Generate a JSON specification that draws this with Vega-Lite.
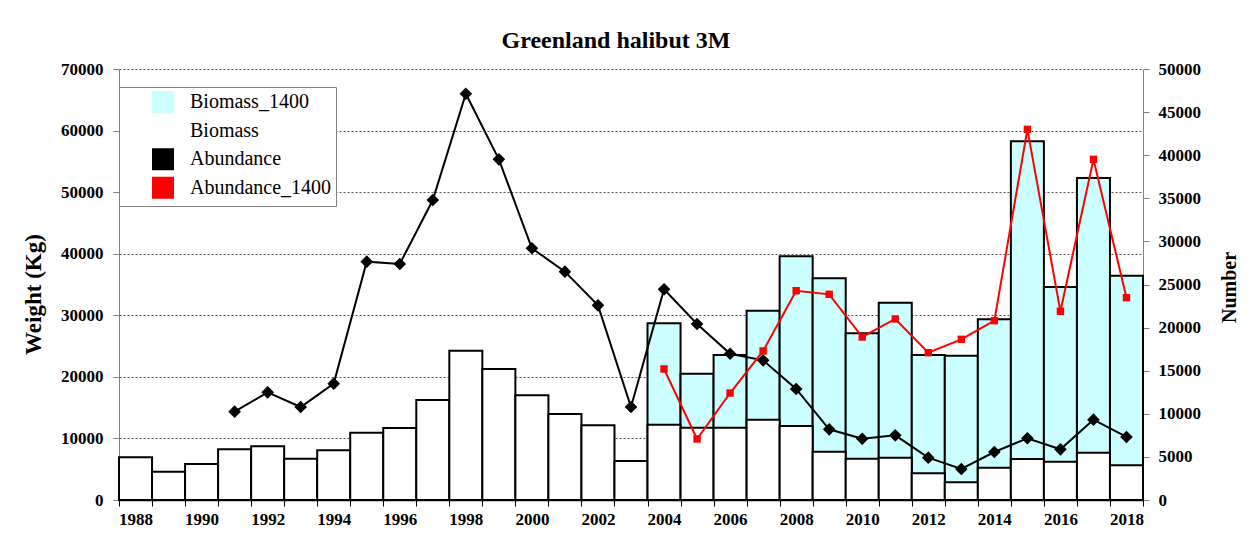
{
  "$schema": "https://vega.github.io/schema/vega-lite/v6.json",
  "width": 1024,
  "height": 431,
  "autosize": {"type": "none"},
  "padding": {"left": 119, "top": 69, "right": 111, "bottom": 50},
  "background": "white",
  "config": {
    "font": "Liberation Serif",
    "view": {"stroke": null},
    "legend": {"labelFont": "Liberation Serif", "labelFontSize": 20, "labelColor": "black"}
  },
  "title": {
    "text": "Greenland halibut 3M",
    "font": "Liberation Serif",
    "fontSize": 24,
    "fontWeight": "bold",
    "color": "black",
    "anchor": "middle",
    "frame": "group",
    "dx": -15,
    "baseline": "alphabetic",
    "offset": -12
  },
  "data": {
    "values": [
      {"year": 1988, "biomass": 6950, "biomass1400": null, "abundance": null, "abundance1400": null},
      {"year": 1989, "biomass": 4600, "biomass1400": null, "abundance": null, "abundance1400": null},
      {"year": 1990, "biomass": 5850, "biomass1400": null, "abundance": null, "abundance1400": null},
      {"year": 1991, "biomass": 8250, "biomass1400": null, "abundance": 10250, "abundance1400": null},
      {"year": 1992, "biomass": 8750, "biomass1400": null, "abundance": 12490, "abundance1400": null},
      {"year": 1993, "biomass": 6700, "biomass1400": null, "abundance": 10790, "abundance1400": null},
      {"year": 1994, "biomass": 8100, "biomass1400": null, "abundance": 13500, "abundance1400": null},
      {"year": 1995, "biomass": 10930, "biomass1400": null, "abundance": 27650, "abundance1400": null},
      {"year": 1996, "biomass": 11690, "biomass1400": null, "abundance": 27380, "abundance1400": null},
      {"year": 1997, "biomass": 16240, "biomass1400": null, "abundance": 34800, "abundance1400": null},
      {"year": 1998, "biomass": 24250, "biomass1400": null, "abundance": 47130, "abundance1400": null},
      {"year": 1999, "biomass": 21280, "biomass1400": null, "abundance": 39520, "abundance1400": null},
      {"year": 2000, "biomass": 17000, "biomass1400": null, "abundance": 29200, "abundance1400": null},
      {"year": 2001, "biomass": 13970, "biomass1400": null, "abundance": 26490, "abundance1400": null},
      {"year": 2002, "biomass": 12130, "biomass1400": null, "abundance": 22580, "abundance1400": null},
      {"year": 2003, "biomass": 6330, "biomass1400": null, "abundance": 10790, "abundance1400": null},
      {"year": 2004, "biomass": 12230, "biomass1400": 28700, "abundance": 24440, "abundance1400": 15200},
      {"year": 2005, "biomass": 11750, "biomass1400": 20510, "abundance": 20420, "abundance1400": 7080},
      {"year": 2006, "biomass": 11750, "biomass1400": 23550, "abundance": 16970, "abundance1400": 12410},
      {"year": 2007, "biomass": 13040, "biomass1400": 30750, "abundance": 16200, "abundance1400": 17290},
      {"year": 2008, "biomass": 12020, "biomass1400": 39580, "abundance": 12880, "abundance1400": 24280},
      {"year": 2009, "biomass": 7850, "biomass1400": 36000, "abundance": 8200, "abundance1400": 23860},
      {"year": 2010, "biomass": 6710, "biomass1400": 27070, "abundance": 7110, "abundance1400": 18910},
      {"year": 2011, "biomass": 6870, "biomass1400": 32050, "abundance": 7500, "abundance1400": 21000},
      {"year": 2012, "biomass": 4330, "biomass1400": 23550, "abundance": 4910, "abundance1400": 17090},
      {"year": 2013, "biomass": 2870, "biomass1400": 23440, "abundance": 3600, "abundance1400": 18640},
      {"year": 2014, "biomass": 5250, "biomass1400": 29340, "abundance": 5570, "abundance1400": 20800},
      {"year": 2015, "biomass": 6660, "biomass1400": 58260, "abundance": 7160, "abundance1400": 43000},
      {"year": 2016, "biomass": 6230, "biomass1400": 34590, "abundance": 5880, "abundance1400": 21890},
      {"year": 2017, "biomass": 7690, "biomass1400": 52300, "abundance": 9320, "abundance1400": 39520},
      {"year": 2018, "biomass": 5630, "biomass1400": 36430, "abundance": 7310, "abundance1400": 23470}
    ]
  },
  "encoding": {
    "x": {
      "field": "year",
      "type": "ordinal",
      "scale": {
        "domain": [1988,1989,1990,1991,1992,1993,1994,1995,1996,1997,1998,1999,2000,2001,2002,2003,2004,2005,2006,2007,2008,2009,2010,2011,2012,2013,2014,2015,2016,2017,2018],
        "paddingInner": 0,
        "paddingOuter": 0
      },
      "axis": {
        "title": null,
        "labelAngle": 0,
        "tickBand": "extent",
        "tickSize": 6,
        "tickColor": "black",
        "domainColor": "black",
        "domainWidth": 1.5,
        "grid": false,
        "labelOverlap": false,
        "labelExpr": "datum.value % 2 == 0 ? datum.label : ''",
        "labelFont": "Liberation Serif",
        "labelFontSize": 17,
        "labelFontWeight": "bold",
        "labelColor": "black",
        "labelPadding": 5
      }
    }
  },
  "layer": [
    {
      "layer": [
        {
          "mark": {"type": "bar", "stroke": "black", "strokeWidth": 2, "opacity": 1},
          "encoding": {
            "y": {
              "field": "biomass1400",
              "type": "quantitative",
              "title": "Weight (Kg)",
              "stack": null,
              "scale": {"domain": [0, 70000]},
              "axis": {
                "title": "Weight (Kg)",
                "values": [0, 10000, 20000, 30000, 40000, 50000, 60000, 70000],
                "format": "d",
                "grid": true,
                "gridDash": [2, 2],
                "gridColor": "#555555",
                "gridWidth": 1,
                "domainColor": "#808080",
                "tickColor": "#808080",
                "tickSize": 6,
                "labelFont": "Liberation Serif",
                "labelFontSize": 17,
                "labelFontWeight": "bold",
                "labelColor": "black",
                "labelPadding": 10,
                "titleFont": "Liberation Serif",
                "titleFontSize": 23,
                "titleFontWeight": "bold",
                "titleColor": "black",
                "titleAngle": 270,
                "titleBaseline": "middle",
                "titleAlign": "center",
                "titleX": -86,
                "titleY": 225
              }
            },
            "color": {
              "datum": "Biomass_1400",
              "type": "nominal",
              "scale": {
                "domain": ["Biomass_1400", "Biomass", "Abundance", "Abundance_1400"],
                "range": ["#ccffff", "#ffffff", "#000000", "#ff0000"]
              },
              "legend": {
                "title": null,
                "orient": "none",
                "legendX": 0,
                "legendY": 18,
                "padding": 4,
                "fillColor": "white",
                "strokeColor": "#808080",
                "labelFont": "Liberation Serif",
                "labelFontSize": 20,
                "labelColor": "black",
                "labelBaseline": "middle",
                "symbolSize": 400,
                "symbolOffset": 29,
                "labelOffset": 16,
                "rowPadding": 0.6,
                "symbolStrokeWidth": 2
              }
            }
          }
        },
        {
          "mark": {"type": "bar", "stroke": "black", "strokeWidth": 2, "opacity": 1},
          "encoding": {
            "y": {"field": "biomass", "type": "quantitative", "title": "Weight (Kg)", "stack": null},
            "color": {"datum": "Biomass", "type": "nominal"}
          }
        }
      ]
    },
    {
      "layer": [
        {
          "mark": {"type": "line", "strokeWidth": 2, "point": {"shape": "diamond", "size": 160, "filled": true, "opacity": 1}},
          "encoding": {
            "y": {
              "field": "abundance",
              "type": "quantitative",
              "title": "Number",
              "scale": {"domain": [0, 50000]},
              "axis": {
                "orient": "right",
                "title": "Number",
                "values": [0, 5000, 10000, 15000, 20000, 25000, 30000, 35000, 40000, 45000, 50000],
                "format": "d",
                "grid": false,
                "domainColor": "#808080",
                "tickColor": "#808080",
                "tickSize": 6,
                "labelFont": "Liberation Serif",
                "labelFontSize": 17,
                "labelFontWeight": "bold",
                "labelColor": "black",
                "labelPadding": 9,
                "titleFont": "Liberation Serif",
                "titleFontSize": 20,
                "titleFontWeight": "bold",
                "titleColor": "black",
                "titleAngle": 270,
                "titleBaseline": "middle",
                "titleAlign": "center",
                "titleX": 86,
                "titleY": 218
              }
            },
            "color": {"datum": "Abundance", "type": "nominal"}
          }
        },
        {
          "mark": {"type": "line", "strokeWidth": 2, "point": {"shape": "square", "size": 55, "filled": true, "opacity": 1}},
          "encoding": {
            "y": {"field": "abundance1400", "type": "quantitative", "title": "Number"},
            "color": {"datum": "Abundance_1400", "type": "nominal"}
          }
        }
      ]
    }
  ],
  "resolve": {"scale": {"y": "independent"}}
}
